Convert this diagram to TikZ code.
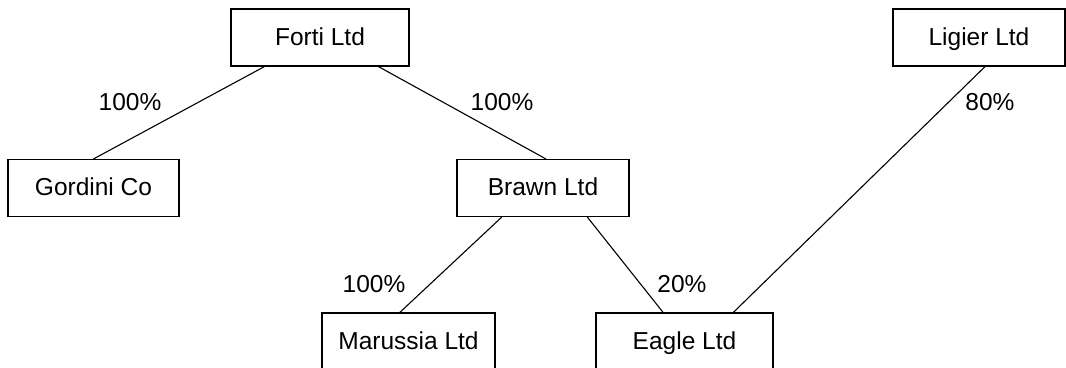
\documentclass[tikz,border=0pt]{standalone}
\usepackage{fontspec}
\setmainfont{Liberation Sans}
\usetikzlibrary{calc}
\tikzset{
  company/.style={draw=black, line width=1.1pt, fill=white, minimum width=172pt, minimum height=57pt, inner sep=0pt, text height=19pt, text depth=4pt, font=\fontsize{24.5}{28}\selectfont},
  link/.style={draw=black, line width=1.1pt},
  pct/.style={font=\fontsize{24.5}{28}\selectfont, inner sep=0pt, text height=19pt, text depth=4pt}
}
\begin{document}
\begin{tikzpicture}[x=1pt,y=-1pt]
\useasboundingbox[fill=white] (0,0) rectangle (1066,367);
\node[company, minimum width=178pt] (forti) at (320,37.5) {Forti Ltd};
\node[company] (ligier) at (979,37.5) {Ligier Ltd};
\node[company, minimum width=171pt] (gordini) at (93.5,188) {Gordini Co};
\node[company] (brawn) at (543,188) {Brawn Ltd};
\node[company, minimum width=173pt] (marussia) at (408.5,341.5) {Marussia Ltd};
\node[company, minimum width=177pt] (eagle) at (684.5,341.5) {Eagle Ltd};
\draw[link] ($(forti.south west)!0.19!(forti.south east)$) -- (gordini.north);
\draw[link] ($(forti.south west)!0.826!(forti.south east)$) -- ($(brawn.north west)!0.517!(brawn.north east)$);
\draw[link] ($(brawn.south west)!0.262!(brawn.south east)$) -- ($(marussia.north west)!0.45!(marussia.north east)$);
\draw[link] ($(brawn.south west)!0.756!(brawn.south east)$) -- ($(eagle.north west)!0.38!(eagle.north east)$);
\draw[link] ($(ligier.south west)!0.535!(ligier.south east)$) -- ($(eagle.north west)!0.774!(eagle.north east)$);
\node[pct] (p1) at (130,103) {100\%};
\node[pct] (p2) at (502,103) {100\%};
\node[pct] (p3) at (990,103) {80\%};
\node[pct] (p4) at (374,285) {100\%};
\node[pct] (p5) at (682,285) {20\%};
\end{tikzpicture}
\end{document}
